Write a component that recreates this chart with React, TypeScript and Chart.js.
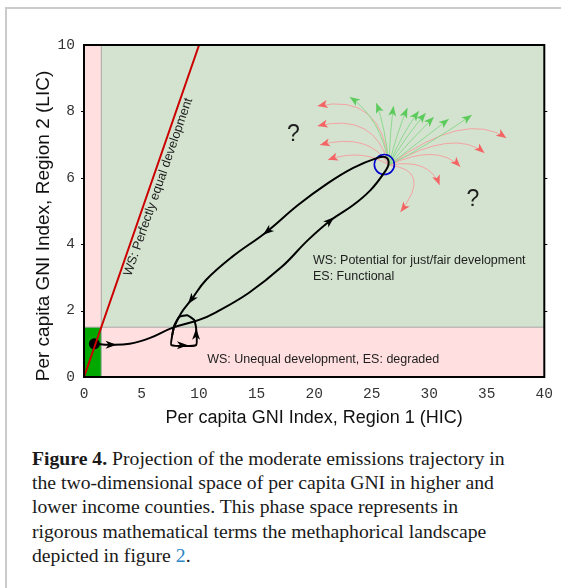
import React, { useEffect, useRef } from "react";
import { Chart, registerables } from "chart.js";

Chart.register(...registerables);

type P = [number, number];

// ---- data ----
const xRange: P = [0, 40];
const yRange: P = [0, 10];
const xTickStep = 5;
const yTickStep = 2;
const lowBand = 1.5;

const equalityLine: P[] = [[0, 0], [10, 10]];
const startPoint: P = [0.9, 1.0];
const attractor: P = [26.1, 6.4];
const fanOrigin: P = [26.5, 6.38];

// trajectory: start -> lower branch -> tip -> upper branch
const outbound: P[] = [
  [0.9, 1.0], [2.24, 0.97], [3.97, 1.0], [5.69, 1.17], [7.67, 1.48], [10.0, 1.72],
  [11.47, 1.95], [14.31, 2.53], [17.16, 3.31], [19.48, 4.13], [21.47, 4.73],
  [23.4, 5.18], [24.9, 5.63], [26.0, 6.11], [26.47, 6.42], [26.2, 6.62],
];
const inbound: P[] = [
  [26.2, 6.62], [25.5, 6.6], [23.4, 6.3], [21.2, 5.84], [18.6, 5.18], [15.86, 4.37],
  [12.84, 3.61], [10.6, 2.92], [9.31, 2.32], [8.45, 1.93], [7.84, 1.51], [7.67, 1.27],
];
const limitLoop: P[] = [
  [7.67, 1.27], [7.59, 0.96], [9.74, 0.96], [9.74, 1.48], [9.57, 1.72],
  [8.97, 1.86], [8.28, 1.81], [7.84, 1.55], [7.67, 1.27],
];
// [x, y, dx, dy]
const flowArrows: [number, number, number, number][] = [
  [2.4, 0.97, 1, 0],
  [21.4, 4.71, 2.0, 0.6],
  [15.9, 4.38, -1.3, -0.36],
  [9.3, 2.32, -1.3, -0.6],
  [8.6, 0.96, 1, 0],
  [9.74, 1.3, 0, 1],
];

const greenEnds: P[] = [
  [23.1, 8.43], [25.4, 8.25], [26.9, 8.16], [28.1, 8.1], [29.1, 8.01],
  [29.7, 7.95], [30.4, 7.83], [31.7, 7.77], [33.7, 7.89],
];
const greenBends: P[] = [
  [25.8, 7.8], [26.2, 7.5], [26.6, 7.44], [27.2, 7.38], [27.6, 7.32],
  [27.9, 7.23], [28.4, 7.14], [29.0, 7.05], [29.8, 6.96],
];
const redEnds: P[] = [
  [20.3, 8.16], [20.3, 7.56], [20.5, 6.99], [21.2, 6.54],
  [36.7, 7.2], [34.8, 6.75], [32.7, 6.33], [30.9, 5.78], [27.5, 4.97],
];
const redBends: P[] = [
  [25.9, 8.58], [25.3, 7.98], [24.8, 7.38], [24.2, 6.9],
  [33.1, 8.04], [32.2, 7.5], [30.7, 7.05], [30.0, 6.6], [30.3, 6.24],
];

const unknownMarks: P[] = [[18.2, 7.29], [33.8, 5.33]];
const fairNoteAt: P = [19.9, 3.52];
const unequalNoteAt: P = [10.7, 0.54];
const equalNoteAt = 5.8;

const titleX = "Per capita GNI Index, Region 1 (HIC)";
const titleY = "Per capita GNI Index, Region 2 (LIC)";
const noteFair = ["WS: Potential for just/fair development", "ES: Functional"];
const noteUnequal = "WS: Unequal development, ES: degraded";
const noteEqual = "WS: Perfectly equal development";

const captionLines = [
  "the two-dimensional space of per capita GNI in higher and",
  "lower income counties. This phase space represents in",
  "rigorous mathematical terms the methaphorical landscape",
];

// ---- helpers ----
function head(ctx: CanvasRenderingContext2D, x: number, y: number, ang: number, len: number, wid: number, notch: number) {
  ctx.save();
  ctx.translate(x, y);
  ctx.rotate(ang);
  ctx.beginPath();
  ctx.moveTo(0, 0);
  ctx.lineTo(-len, -wid / 2);
  ctx.lineTo(-len + notch, 0);
  ctx.lineTo(-len, wid / 2);
  ctx.closePath();
  ctx.fill();
  ctx.restore();
}

const regionsPlugin = {
  id: "regions",
  beforeDatasetsDraw(chart: any) {
    const { ctx, chartArea: a, scales } = chart;
    const sx = scales.x, sy = scales.y;
    const xb = sx.getPixelForValue(lowBand);
    const yb = sy.getPixelForValue(lowBand);
    ctx.save();
    ctx.fillStyle = "#d3e3cf";
    ctx.fillRect(a.left, a.top, a.right - a.left, a.bottom - a.top);
    ctx.fillStyle = "#ffdfdf";
    ctx.fillRect(a.left, a.top, xb - a.left, a.bottom - a.top);
    ctx.fillRect(a.left, yb, a.right - a.left, a.bottom - yb);
    ctx.fillStyle = "#00a800";
    ctx.fillRect(a.left, yb, xb - a.left, a.bottom - yb);
    ctx.strokeStyle = "#a8a8a8";
    ctx.lineWidth = 1;
    ctx.beginPath();
    ctx.moveTo(xb, a.top);
    ctx.lineTo(xb, a.bottom);
    ctx.moveTo(a.left, yb);
    ctx.lineTo(a.right, yb);
    ctx.stroke();

    // fan of perturbation arrows
    const ox = sx.getPixelForValue(fanOrigin[0]);
    const oy = sy.getPixelForValue(fanOrigin[1]);
    const fan = (ends: P[], bends: P[], line: string, fill: string) => {
      ends.forEach((e, i) => {
        const ex = sx.getPixelForValue(e[0]), ey = sy.getPixelForValue(e[1]);
        const cx = sx.getPixelForValue(bends[i][0]), cy = sy.getPixelForValue(bends[i][1]);
        ctx.strokeStyle = line;
        ctx.lineWidth = 1;
        ctx.beginPath();
        ctx.moveTo(ox, oy);
        ctx.quadraticCurveTo(cx, cy, ex, ey);
        ctx.stroke();
        ctx.fillStyle = fill;
        head(ctx, ex, ey, Math.atan2(ey - cy, ex - cx), 10, 8, 2.5);
      });
    };
    fan(redEnds, redBends, "#f4a3a3", "#f46464");
    fan(greenEnds, greenBends, "#8fd88f", "#5ccb5c");
    ctx.restore();
  },
};

const overlayPlugin = {
  id: "overlay",
  afterDatasetsDraw(chart: any) {
    const { ctx, chartArea: a, scales } = chart;
    const sx = scales.x, sy = scales.y;
    const px = (v: number) => sx.getPixelForValue(v);
    const py = (v: number) => sy.getPixelForValue(v);
    ctx.save();

    // flow arrows on trajectory
    ctx.fillStyle = "#000";
    flowArrows.forEach(([x, y, dx, dy]) => {
      const x0 = px(x), y0 = py(y);
      const ang = Math.atan2(py(y + dy) - y0, px(x + dx) - x0);
      head(ctx, x0 + Math.cos(ang) * 5, y0 + Math.sin(ang) * 5, ang, 11, 8, 3);
    });

    // texts
    ctx.fillStyle = "#1e1e1e";
    ctx.font = '23px "Liberation Sans", Arial, sans-serif';
    ctx.textAlign = "center";
    ctx.textBaseline = "middle";
    unknownMarks.forEach(([x, y]) => ctx.fillText("?", px(x), py(y)));

    ctx.font = '12.5px "Liberation Sans", Arial, sans-serif';
    ctx.textAlign = "left";
    ctx.fillText(noteFair[0], px(fairNoteAt[0]), py(fairNoteAt[1]));
    ctx.fillText(noteFair[1], px(fairNoteAt[0]), py(fairNoteAt[1]) + 16);
    ctx.fillText(noteUnequal, px(unequalNoteAt[0]), py(unequalNoteAt[1]));

    // rotated note along equality line
    const l0x = px(equalityLine[0][0]), l0y = py(equalityLine[0][1]);
    const l1x = px(equalityLine[1][0]), l1y = py(equalityLine[1][1]);
    const ang = Math.atan2(l1y - l0y, l1x - l0x);
    ctx.save();
    ctx.translate(px(equalNoteAt), py(equalNoteAt));
    ctx.rotate(ang);
    ctx.textAlign = "center";
    ctx.font = '12.7px "Liberation Sans", Arial, sans-serif';
    ctx.fillText(noteEqual, 0, 8);
    ctx.restore();

    // frame
    ctx.strokeStyle = "#000";
    ctx.lineWidth = 2;
    ctx.strokeRect(a.left, a.top, a.right - a.left, a.bottom - a.top);
    ctx.lineWidth = 1;
    ctx.beginPath();
    for (let v = yRange[0] + yTickStep; v < yRange[1]; v += yTickStep) {
      const yy = Math.round(py(v)) + 0.5;
      ctx.moveTo(a.left - 3, yy);
      ctx.lineTo(a.left, yy);
      ctx.moveTo(a.right, yy);
      ctx.lineTo(a.right + 3, yy);
    }
    ctx.stroke();

    // y axis title
    ctx.fillStyle = "#111";
    ctx.font = '19px "Liberation Sans", Arial, sans-serif';
    ctx.textAlign = "center";
    ctx.textBaseline = "middle";
    ctx.translate(43.5, 226);
    ctx.rotate(-Math.PI / 2);
    ctx.fillText(titleY, 0, 0);
    ctx.restore();
  },
};

export default function App() {
  const ref = useRef<HTMLCanvasElement>(null);
  useEffect(() => {
    const canvas = ref.current!;
    const toXY = (arr: P[]) => arr.map(([x, y]) => ({ x, y }));
    const lineDs = (arr: P[], color: string, w: number, tension: number) => ({
      data: toXY(arr),
      showLine: true,
      borderColor: color,
      borderWidth: w,
      pointRadius: 0,
      tension,
      borderCapStyle: "round" as const,
      borderJoinStyle: "round" as const,
    });
    const tickFont = { family: '"Liberation Mono", "Courier New", monospace', size: 14.5 };
    const chart = new Chart(canvas, {
      type: "scatter",
      data: {
        datasets: [
          lineDs(equalityLine, "#cc0000", 2, 0),
          lineDs([...outbound, ...inbound.slice(1)], "#000", 2, 0.4),
          lineDs(limitLoop, "#000", 2, 0.15),
          { data: toXY([startPoint]), pointRadius: 5.5, backgroundColor: "#000", borderWidth: 0 },
          {
            data: toXY([attractor]),
            pointRadius: 10,
            backgroundColor: "rgba(0,0,0,0)",
            borderColor: "#0000d0",
            borderWidth: 1.6,
          },
        ] as any,
      },
      options: {
        animation: false,
        responsive: false,
        events: [],
        layout: { padding: { top: 45, right: 13, left: 0, bottom: 0 } },
        plugins: { legend: { display: false }, tooltip: { enabled: false } },
        scales: {
          x: {
            type: "linear",
            min: xRange[0],
            max: xRange[1],
            ticks: { stepSize: xTickStep, font: tickFont, color: "#333", padding: 8, maxRotation: 0 },
            grid: { display: false, drawTicks: false },
            border: { display: false },
            title: {
              display: true,
              text: titleX,
              color: "#111",
              font: { family: '"Liberation Sans", Arial, sans-serif', size: 18 },
              padding: { top: 0, bottom: 1 },
            },
            afterFit: (s: any) => {
              s.height = 53;
            },
          },
          y: {
            type: "linear",
            min: yRange[0],
            max: yRange[1],
            ticks: { stepSize: yTickStep, font: tickFont, color: "#333", padding: 9 },
            grid: { display: false, drawTicks: false },
            border: { display: false },
            afterFit: (s: any) => {
              s.width = 84;
            },
          },
        },
      } as any,
      plugins: [regionsPlugin, overlayPlugin],
    });
    return () => chart.destroy();
  }, []);

  const serif = '"Liberation Serif", "Times New Roman", serif';
  return (
    <div style={{ position: "fixed", left: 0, top: 0, width: 561, height: 588, background: "#fff", overflow: "hidden" }}>
      <div
        style={{
          position: "absolute",
          left: 5,
          top: 7,
          width: 556,
          height: 581,
          borderLeft: "2px solid #cbcbcb",
          borderTop: "2px solid #cbcbcb",
          boxSizing: "border-box",
        }}
      />
      <canvas ref={ref} width={561} height={430} style={{ position: "absolute", left: 0, top: 0, width: 561, height: 430 }} />
      <div
        style={{
          position: "absolute",
          left: 32,
          top: 446,
          fontFamily: serif,
          fontSize: 19.7,
          lineHeight: "24.2px",
          color: "#1a1a1a",
          whiteSpace: "nowrap",
        }}
      >
        <div>
          <b>Figure 4.</b> Projection of the moderate emissions trajectory in
        </div>
        {captionLines.map((l) => (
          <div key={l}>{l}</div>
        ))}
        <div>
          depicted in figure <span style={{ color: "#2b86c4" }}>2</span>.
        </div>
      </div>
    </div>
  );
}
